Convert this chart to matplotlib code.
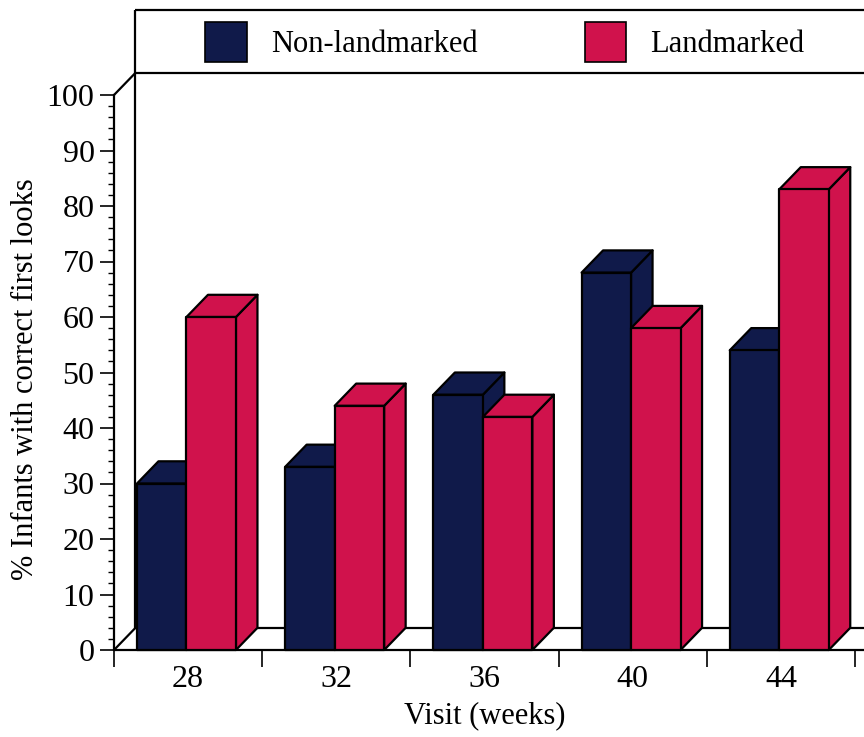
import matplotlib
matplotlib.use('Agg')
import matplotlib.pyplot as plt
from matplotlib.patches import Polygon, Patch

plt.rcParams['font.family'] = ['Liberation Serif', 'DejaVu Serif']

# data
visits = ['28', '32', '36', '40', '44']
non_landmarked = [30, 33, 46, 68, 54]
landmarked = [60, 44, 42, 58, 83]
series_names = ['Non-landmarked', 'Landmarked']

navy = '#101a4a'
crimson = '#d0124c'

# 3d look: depth offset in data units
DX = 0.145
DY = 4.0
W = 0.334
OFF = 0.155
BOX_TOP = 115.4
XR = 5.4   # lines run off the right edge


def bar3d(ax, x0, h, color):
    front = [(x0, 0), (x0 + W, 0), (x0 + W, h), (x0, h)]
    side = [(x0 + W, 0), (x0 + W + DX, DY), (x0 + W + DX, h + DY), (x0 + W, h)]
    top = [(x0, h), (x0 + W, h), (x0 + W + DX, h + DY), (x0 + DX, h + DY)]
    for pts in (side, top, front):
        ax.add_patch(Polygon(pts, closed=True, facecolor=color, edgecolor='black',
                             linewidth=1.6, joinstyle='round', clip_on=False, zorder=3))


fig = plt.figure(figsize=(8.64, 7.37), dpi=100)
ax = fig.add_axes([114 / 864, 87 / 737, 741 / 864, 555 / 737])
ax.set_xlim(0, 5)
ax.set_ylim(0, 100)

lk = dict(color='black', lw=1.6, clip_on=False, zorder=2, solid_capstyle='butt')
# floor
ax.plot([0, XR], [0, 0], **lk)
ax.plot([DX, XR], [DY, DY], **lk)
ax.plot([0, DX], [0, DY], **lk)
# back wall and legend frame
ax.plot([0, DX], [100, 100 + DY], **lk)
ax.plot([DX, DX], [DY, BOX_TOP], **lk)
ax.plot([DX, XR], [100 + DY, 100 + DY], **lk)
ax.plot([DX, XR], [BOX_TOP, BOX_TOP], **lk)

for i in range(len(visits)):
    bar3d(ax, i + OFF, non_landmarked[i], navy)
    bar3d(ax, i + OFF + W, landmarked[i], crimson)

for s in ['top', 'right', 'bottom']:
    ax.spines[s].set_visible(False)
ax.spines['left'].set_linewidth(1.6)

ax.set_yticks(range(0, 101, 10))
ax.set_yticks(range(0, 101, 2), minor=True)
ax.tick_params(axis='y', which='major', length=10, width=1.2, labelsize=23, pad=4)
ax.tick_params(axis='y', which='minor', length=4, width=1.0)

ax.set_xticks(range(0, 6))
ax.set_xticklabels([])
ax.set_xticks([i + 0.5 for i in range(len(visits))], minor=True)
ax.set_xticklabels(visits, minor=True)
ax.tick_params(axis='x', which='major', length=12, width=1.2)
ax.tick_params(axis='x', which='minor', length=0, labelsize=23, pad=11)

ax.set_xlabel('Visit (weeks)', fontsize=22)
ax.xaxis.set_label_coords(0.5, -0.093)
ax.set_ylabel('% Infants with correct first looks', fontsize=22)
ax.yaxis.set_label_coords(-0.10, 0.488)

handles = [Patch(facecolor=navy, edgecolor='black', linewidth=1.2),
           Patch(facecolor=crimson, edgecolor='black', linewidth=1.2)]
fig.legend(handles, series_names, loc='center', ncol=2, frameon=False,
           bbox_to_anchor=(505 / 864, 1 - 42 / 737), fontsize=22,
           handlelength=1.35, handleheight=1.68, handletextpad=0.8,
           columnspacing=3.5, borderpad=0)

fig.savefig('out.png', dpi=100)
